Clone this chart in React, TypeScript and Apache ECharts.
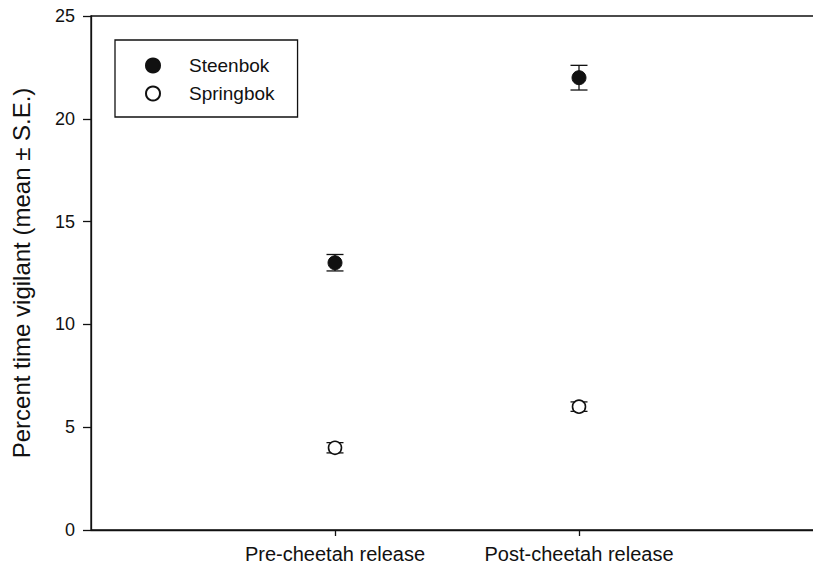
import React, { useEffect, useRef } from "react";
import * as echarts from "echarts";

const categories = ["", "Pre-cheetah release", "Post-cheetah release", ""];
const seriesNames = ["Steenbok", "Springbok"];
const steenbokMean = [13.0, 22.0];
const steenbokSE = [0.4, 0.6];
const springbokMean = [4.0, 6.0];
const springbokSE = [0.25, 0.23];
const yTicks = [0, 5, 10, 15, 20, 25];

const FONT = "'Liberation Sans', Arial, sans-serif";

export default function App() {
  const ref = useRef<HTMLDivElement>(null);
  useEffect(() => {
    if (!ref.current) return;
    const chart = echarts.init(ref.current, undefined, { renderer: "svg" });

    const pts = (means: number[]) => means.map((m, i) => [i + 1, m]);
    const errs = (means: number[], se: number[]) =>
      means.map((m, i) => [i + 1, m - se[i], m + se[i]]);

    const renderErr = (params: any, api: any) => {
      const x = api.value(0);
      const lo = api.coord([x, api.value(1)]);
      const hi = api.coord([x, api.value(2)]);
      const hw = 8.5;
      const style = { stroke: "#111", lineWidth: 1.3, fill: "none" };
      return {
        type: "group",
        children: [
          { type: "line", shape: { x1: lo[0], y1: lo[1], x2: hi[0], y2: hi[1] }, style },
          { type: "line", shape: { x1: lo[0] - hw, y1: lo[1], x2: lo[0] + hw, y2: lo[1] }, style },
          { type: "line", shape: { x1: hi[0] - hw, y1: hi[1], x2: hi[0] + hw, y2: hi[1] }, style },
        ],
      };
    };

    chart.setOption({
      animation: false,
      backgroundColor: "#fff",
      textStyle: { fontFamily: FONT },
      grid: {
        left: 91,
        top: 16,
        right: 7,
        bottom: 41,
        show: true,
        borderColor: "#111",
        borderWidth: 1.3,
        containLabel: false,
      },
      legend: {
        data: seriesNames,
        orient: "vertical",
        left: 115,
        top: 40,
        backgroundColor: "#fff",
        borderColor: "#111",
        borderWidth: 1.3,
        borderRadius: 0,
        padding: [16, 23, 14, 30],
        itemWidth: 14,
        itemHeight: 14,
        itemGap: 9,
        icon: "circle",
        textStyle: { fontSize: 19, color: "#111", fontFamily: FONT, padding: [0, 0, 0, 24] },
      },
      xAxis: {
        type: "category",
        data: categories,
        boundaryGap: false,
        axisLine: { lineStyle: { color: "#111", width: 1.3 } },
        axisTick: {
          alignWithLabel: true,
          length: 6,
          interval: (index: number) => index === 1 || index === 2,
          lineStyle: { color: "#111", width: 1.3 },
        },
        axisLabel: {
          interval: 0,
          fontSize: 20,
          color: "#111",
          margin: 14,
          fontFamily: FONT,
        },
        splitLine: { show: false },
      },
      yAxis: {
        type: "value",
        min: yTicks[0],
        max: yTicks[yTicks.length - 1],
        interval: 5,
        name: "Percent time vigilant (mean ± S.E.)",
        nameLocation: "middle",
        nameGap: 58,
        nameTextStyle: { fontSize: 24, color: "#111", fontFamily: FONT },
        axisLine: { show: true, lineStyle: { color: "#111", width: 1.3 } },
        axisTick: { show: true, length: 8, lineStyle: { color: "#111", width: 1.3 } },
        axisLabel: { fontSize: 18, color: "#111", margin: 16, fontFamily: FONT },
        splitLine: { show: false },
      },
      series: [
        {
          type: "custom",
          name: "Steenbok SE",
          renderItem: renderErr,
          data: errs(steenbokMean, steenbokSE),
          z: 1,
          silent: true,
        },
        {
          type: "custom",
          name: "Springbok SE",
          renderItem: renderErr,
          data: errs(springbokMean, springbokSE),
          z: 1,
          silent: true,
        },
        {
          type: "scatter",
          name: seriesNames[0],
          data: pts(steenbokMean),
          symbol: "circle",
          symbolSize: 14,
          itemStyle: { color: "#111", borderColor: "#111", borderWidth: 1, opacity: 1 },
          z: 3,
        },
        {
          type: "scatter",
          name: seriesNames[1],
          data: pts(springbokMean),
          symbol: "circle",
          symbolSize: 13,
          itemStyle: { color: "#fff", borderColor: "#111", borderWidth: 1.6, opacity: 1 },
          z: 3,
        },
      ],
    });
    return () => chart.dispose();
  }, []);
  return (
    <div style={{ position: "fixed", left: 0, top: 0, width: 813, height: 571, overflow: "hidden" }}>
      <div ref={ref} style={{ width: 830, height: 571 }} />
    </div>
  );
}
